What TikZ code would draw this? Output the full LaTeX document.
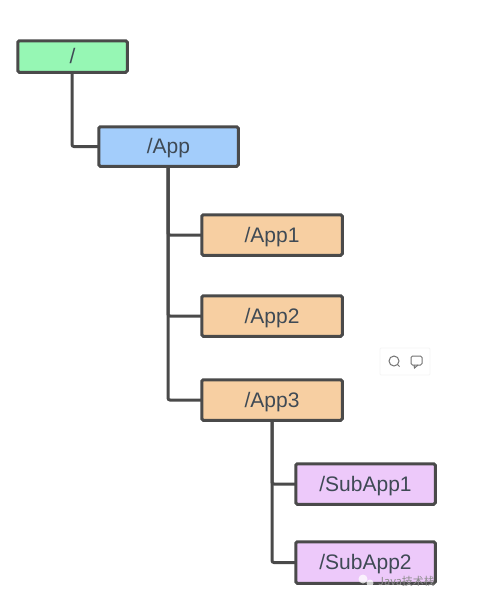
\documentclass[tikz,border=0pt]{standalone}
\usepackage{fontspec}
\setmainfont{Liberation Sans}
\newfontfamily\cjkwm{Noto Sans CJK SC}
\usetikzlibrary{calc}
\definecolor{linec}{HTML}{4A4A4A}
\definecolor{txtc}{HTML}{3F4A55}
\definecolor{greenf}{HTML}{96F7B4}
\definecolor{bluef}{HTML}{A3CDFB}
\definecolor{orangef}{HTML}{F7CFA2}
\definecolor{purplef}{HTML}{EDC9FA}
\tikzset{
  box/.style={draw=linec,line width=3pt,rounded corners=1.5pt,inner sep=0pt,outer sep=0pt,text=txtc,
    font=\fontsize{21}{24}\selectfont,anchor=north west,text height=17pt,text depth=3pt},
  conn/.style={draw=linec,line width=3pt,rounded corners=2pt},
  popupbox/.style={fill=white,draw=black!4,line width=.8pt,rounded corners=1pt,inner sep=0pt},
  iconline/.style={draw=black!55,line width=1pt}
}
\newcommand{\treebox}[7]{% name, x0, y0, x1, y1, fill, text
  \path let \n1={#4-#2-1.5},\n2={#5-#3-1.5} in
    node[box,fill=#6,minimum width=\n1 pt,minimum height=\n2 pt] (#1) at (#2+.75,#3+.75) {#7};}
\begin{document}
\begin{tikzpicture}[x=1pt,y=-1pt]
\useasboundingbox (0,0) rectangle (500,606);
\fill[white] (0,0) rectangle (500,606);
\coordinate (rootdrop) at (72,72);
\coordinate (appdrop) at (168,166);
\coordinate (app3drop) at (272,420);
\treebox{root}{17}{40}{128}{73}{greenf}{/}
\treebox{app}{98}{126}{239}{167}{bluef}{/App}
\treebox{appone}{201}{214}{343}{256}{orangef}{/App1}
\treebox{apptwo}{201}{295}{343}{337}{orangef}{/App2}
\treebox{appthree}{201}{379}{343}{421}{orangef}{/App3}
\treebox{subone}{295}{463}{436}{505}{purplef}{/SubApp1}
\treebox{subtwo}{295}{541}{436}{584}{purplef}{/SubApp2}
\draw[conn] (rootdrop) |- (app.west);
\draw[conn] (appdrop) |- (appone.west);
\draw[conn] (appdrop) |- (apptwo.west);
\draw[conn] (appdrop) |- (appthree.west);
\draw[conn] (app3drop) |- (subone.west);
\draw[conn] (app3drop) |- (subtwo.west);
% popup
\node[popupbox,minimum width=50pt,minimum height=27pt] (popup) at (405,361.5) {};
\draw[iconline] (394,361) circle (5pt);
\draw[iconline] (397.5,364.5) -- (399.5,366.5);
\draw[iconline,rounded corners=1.5pt] (411,356) rectangle (422,365);
\draw[iconline] (414,365) -- (414.5,368) -- (418,365);
% watermark
\fill[white,opacity=.75] (363,579) circle (4.5pt);
\fill[white,opacity=.75] (370,583) circle (3.5pt);
\node[text=black!45,font=\cjkwm\fontsize{11}{12}\selectfont,inner sep=0pt,anchor=west] (wm) at (378,581) {Java技术栈};
\end{tikzpicture}
\end{document}
